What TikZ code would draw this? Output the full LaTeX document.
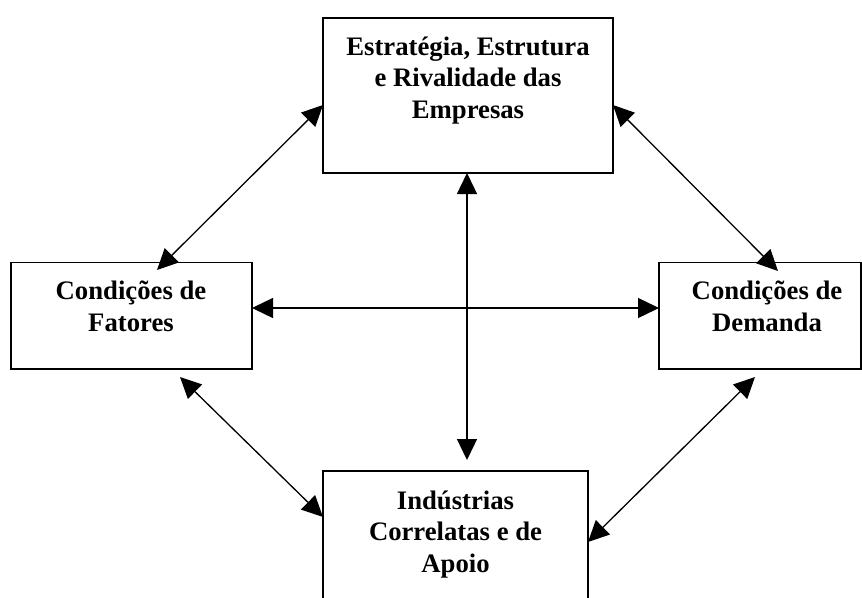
\documentclass[tikz,border=0pt]{standalone}
\usepackage{fontspec}
\setmainfont{Liberation Serif}
\usetikzlibrary{arrows.meta}
\begin{document}
\begin{tikzpicture}[x=1pt,y=-1pt,
  box/.style={draw,line width=1.5pt,rectangle,inner sep=0pt},
  lbl/.style={align=center,font=\fontsize{26.7}{31.5}\selectfont\bfseries,inner sep=0pt,anchor=base},
  link/.style={line width=1.3pt,{Triangle[length=21pt,width=20pt]}-{Triangle[length=21pt,width=20pt]}}]
\clip (0,0) rectangle (862,597);
\useasboundingbox (0,0) rectangle (862,597);
\fill[white] (0,0) rectangle (862,597);
% boxes
\node[box,minimum width=290pt,minimum height=155pt] (topbox) at (468,95.5) {};
\node[box,minimum width=241pt,minimum height=106.5pt] (leftbox) at (131.5,315.75) {};
\node[box,minimum width=202pt,minimum height=106.5pt] (rightbox) at (760,315.75) {};
\node[box,minimum width=265pt,minimum height=160pt] (botbox) at (455.5,551) {};
% texts (anchored at the baseline of the last line)
\node[lbl] (toptext) at (468,118) {Estratégia, Estrutura\\e Rivalidade das\\Empresas};
\node[lbl] (lefttext) at (131,331) {Condições de\\Fatores};
\node[lbl] (righttext) at (767,331) {Condições de\\Demanda};
\node[lbl] (bottext) at (455.5,572) {Indústrias\\Correlatas e de\\Apoio};
% connector end points
\coordinate (a1) at (323,105);  \coordinate (a2) at (157,270);
\coordinate (b1) at (613,105);  \coordinate (b2) at (778,271);
\coordinate (c1) at (252,308);  \coordinate (c2) at (659,308);
\coordinate (d1) at (467,173);  \coordinate (d2) at (467,460);
\coordinate (e1) at (180,377);  \coordinate (e2) at (323,517);
\coordinate (f1) at (755,377);  \coordinate (f2) at (588,542);
\draw[link] (a1) -- (a2);
\draw[link] (b1) -- (b2);
\draw[link] (c1) -- (c2);
\draw[link] (d1) -- (d2);
\draw[link] (e1) -- (e2);
\draw[link] (f1) -- (f2);
\end{tikzpicture}
\end{document}
